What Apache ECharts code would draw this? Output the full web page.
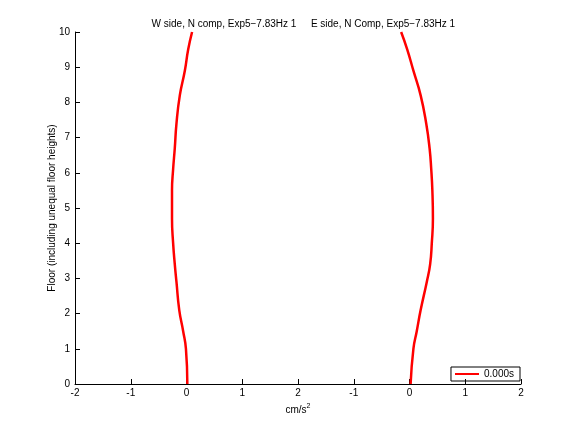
<!DOCTYPE html>
<html>
<head>
<meta charset="utf-8">
<script src="https://cdn.jsdelivr.net/npm/echarts@6/dist/echarts.min.js"></script>
<style>
  html, body { margin: 0; padding: 0; background: #fff; }
  #chart { width: 576px; height: 432px; }
</style>
</head>
<body>
<div id="chart"></div>
<script>
// floor levels and accelerations (cm/s^2)
var floors = [0, 1, 1.5, 2.1, 2.9, 3.4, 4, 4.7, 5.5, 6.1, 6.7, 7.4, 8.2, 8.9, 9.5, 10];
var westN  = [0.015, -0.01, -0.06, -0.13, -0.18, -0.21, -0.24, -0.26, -0.26, -0.24, -0.21, -0.18, -0.12, -0.03, 0.03, 0.10];
var eastN  = [0.02, 0.07, 0.13, 0.20, 0.31, 0.37, 0.40, 0.42, 0.41, 0.39, 0.36, 0.30, 0.20, 0.07, -0.04, -0.15];
var titles = ['W side, N comp, Exp5\u22127.83Hz 1', 'E side, N Comp, Exp5\u22127.83Hz 1'];
var timeLabel = '0.000s';
var eastOffset = 4; // east panel is drawn shifted by 4 units on the shared axis

var font = 'Liberation Sans, Arial, sans-serif';

function pairs(xs, off) {
  return xs.map(function (v, i) { return [v + off, floors[i]]; });
}

var chart = echarts.init(document.getElementById('chart'));
chart.setOption({
  animation: false,
  title: [
    { text: titles[0], left: 219, top: 14, textAlign: 'center',
      textStyle: { fontFamily: font, fontSize: 10, fontWeight: 'normal', color: '#000' } },
    { text: titles[1], left: 378, top: 14, textAlign: 'center',
      textStyle: { fontFamily: font, fontSize: 10, fontWeight: 'normal', color: '#000' } }
  ],
  legend: {
    data: [timeLabel],
    right: 56, bottom: 51,
    orient: 'vertical',
    borderColor: '#000', borderWidth: 1, borderRadius: 0,
    padding: [2, 6, 2, 4],
    itemWidth: 24, itemHeight: 2,
    icon: 'rect',
    textStyle: { fontFamily: font, fontSize: 10, color: '#000' }
  },
  grid: { left: 75, right: 55, top: 32, bottom: 48, containLabel: false },
  xAxis: {
    type: 'value', min: -2, max: 6, interval: 1,
    name: 'cm/s{sup|2}', nameLocation: 'middle', nameGap: 18,
    nameTextStyle: {
      fontFamily: font, fontSize: 10, color: '#000',
      rich: { sup: { fontFamily: font, fontSize: 7, verticalAlign: 'top', padding: [0, 0, 8, 0], color: '#000' } }
    },
    axisLine: { onZero: false, lineStyle: { color: '#000', width: 1 } },
    axisTick: { inside: true, length: 5, lineStyle: { color: '#000' } },
    axisLabel: {
      fontFamily: font, fontSize: 10, color: '#000', margin: 4,
      formatter: function (v) { return String(v <= 2 ? v : v - eastOffset); }
    },
    splitLine: { show: false }
  },
  yAxis: {
    type: 'value', min: 0, max: 10, interval: 1,
    name: 'Floor (including unequal floor heights)', nameLocation: 'middle', nameGap: 18,
    nameMoveOverlap: false,
    nameTextStyle: { fontFamily: font, fontSize: 10, color: '#000' },
    axisLine: { show: true, onZero: false, lineStyle: { color: '#000', width: 1 } },
    axisTick: { show: true, inside: true, length: 5, lineStyle: { color: '#000' } },
    axisLabel: { fontFamily: font, fontSize: 10, color: '#000', margin: 5 },
    splitLine: { show: false }
  },
  series: [
    { name: timeLabel, type: 'line', data: pairs(westN, 0), showSymbol: false, smooth: true,
      lineStyle: { color: '#ff0000', width: 2.5 }, itemStyle: { color: '#ff0000' } },
    { name: timeLabel, type: 'line', data: pairs(eastN, eastOffset), showSymbol: false, smooth: true,
      lineStyle: { color: '#ff0000', width: 2.5 }, itemStyle: { color: '#ff0000' } }
  ]
});
</script>
</body>
</html>
